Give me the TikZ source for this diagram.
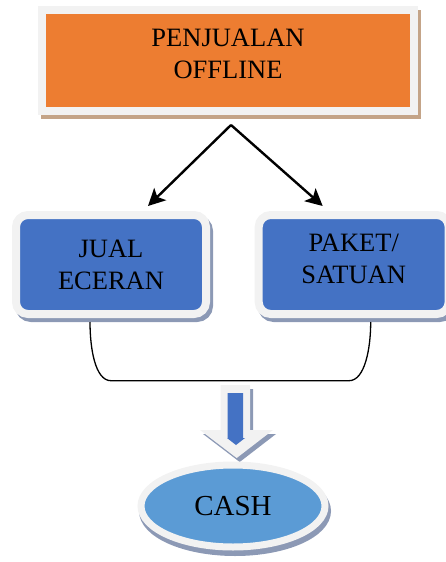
\documentclass[tikz,border=0pt]{standalone}
\usepackage{fontspec}
\setmainfont{Liberation Serif}
\usepackage{tikz}
\usetikzlibrary{shapes.geometric,arrows.meta}
\definecolor{offorange}{HTML}{ED7D31}
\definecolor{boxblue}{HTML}{4472C4}
\definecolor{cashblue}{HTML}{5B9BD5}
\definecolor{rimgray}{HTML}{F2F2F2}
\definecolor{tanshade}{RGB}{196,164,136}
\definecolor{blueshade}{RGB}{140,153,181}
\tikzset{
  rim/.style={draw=rimgray, line width=8pt},
  castshadow/.style 2 args={preaction={draw=#1, fill=#1, line width=8pt, transform canvas={shift={#2}}}},
  txt/.style={align=center, text=black, font=\fontsize{26.5}{32}\selectfont},
  sale/.style={rectangle, rounded corners=12pt, rim, fill=boxblue, castshadow={blueshade}{(3pt,-4pt)}, txt, minimum width=190pt, minimum height=99pt},
  link/.style={line width=1.3pt},
  branch/.style={line width=2.4pt, -{Stealth[length=17pt,width=17pt,inset=4pt]}},
}
\begin{document}
\begin{tikzpicture}[x=1pt,y=-1pt]
\clip (0,0) rectangle (446,562);
\node[rectangle, rim, fill=offorange, castshadow={tanshade}{(3pt,-4pt)}, txt, text depth=14pt, minimum width=372pt, minimum height=101pt] (offline) at (228,60.5) {PENJUALAN\\OFFLINE};
\node[sale] (eceran) at (111,264.5) {JUAL\\ECERAN};
\node[sale, text depth=12pt] (paket) at (353.7,264.5) {PAKET/\\SATUAN};
\coordinate (fork) at ([xshift=3pt,yshift=-10pt]offline.south);
\draw[branch] (fork) -- ([xshift=37pt,yshift=5pt]eceran.north);
\draw[branch] (fork) -- ([xshift=-31pt,yshift=5pt]paket.north);
\coordinate (joinl) at (111,380.7);
\coordinate (joinr) at (349,380.7);
\draw[link] ([xshift=-21pt,yshift=-4pt]eceran.south) .. controls +(0,26) and +(-16,0) .. (joinl) -- (joinr) .. controls +(16,0) and +(0,26) .. ([xshift=17pt,yshift=-4pt]paket.south);
\fill[blueshade] (223.7,389) -- (253,389) -- (253,434) -- (276,434) -- (239.7,462) -- (203,434) -- (223.7,434) -- cycle;
\fill[rimgray] (220.7,385) -- (250,385) -- (250,430) -- (273,430) -- (236.7,458) -- (200,430) -- (220.7,430) -- cycle;
\fill[boxblue] (227.7,393) -- (243,393) -- (243,438) -- (245,438) -- (236,445) -- (227,438) -- (227.7,438) -- cycle;
\node[ellipse, rim, line width=7pt, fill=cashblue, castshadow={blueshade}{(2pt,-5pt)}, text=black, font=\fontsize{29}{34}\selectfont, minimum width=184pt, minimum height=82pt, inner sep=0pt] (cash) at (233,506) {CASH};
\end{tikzpicture}
\end{document}
